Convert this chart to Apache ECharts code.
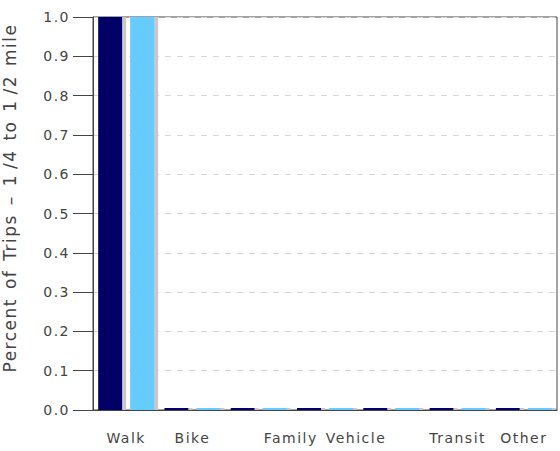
<!DOCTYPE html>
<html><head><meta charset="utf-8">
<script src="https://cdn.jsdelivr.net/npm/echarts@6/dist/echarts.min.js"></script>
<style>html,body{margin:0;padding:0;background:#fff}#c{width:560px;height:451px}
#c text{letter-spacing:1.5px;word-spacing:2px}
</style>
</head><body><div id="c"></div>
<script>
var categories = ['Walk', 'Bike', '', 'Family Vehicle', '', 'Transit', 'Other'];
var seriesA = [1.0, 0, 0, 0, 0, 0, 0];
var seriesB = [1.0, 0, 0, 0, 0, 0, 0];
var yTicks = [0, 0.1, 0.2, 0.3, 0.4, 0.5, 0.6, 0.7, 0.8, 0.9, 1.0];
var yTitle = 'Percent of Trips \u2013 1\u2009/4 to 1\u2009/2 mile';

var chart = echarts.init(document.getElementById('c'), null, {renderer: 'svg'});
var font = 'DejaVu Sans';
chart.setOption({
  animation: false,
  backgroundColor: '#fff',
  grid: {left: 93, top: 17, right: 3, bottom: 41, outerBoundsMode: 'none', containLabel: false,
         show: true, borderColor: '#444', borderWidth: 1, backgroundColor: 'transparent'},
  xAxis: {
    type: 'category', data: categories, boundaryGap: true,
    axisLine: {lineStyle: {color: '#444', width: 1}},
    axisTick: {length: 18, lineStyle: {color: '#444'}},
    axisLabel: {margin: 21, color: '#444', fontFamily: font, fontSize: 14, interval: 0}
  },
  yAxis: {
    type: 'value', min: yTicks[0], max: yTicks[yTicks.length - 1], interval: 0.1,
    name: yTitle, nameLocation: 'middle', nameGap: 75, nameRotate: 90,
    nameTextStyle: {color: '#444', fontFamily: font, fontSize: 17, padding: [0, 0, 0, 31]},
    axisLine: {show: true, lineStyle: {color: '#444', width: 1}},
    axisTick: {show: true, length: 20, lineStyle: {color: '#444'}},
    axisLabel: {margin: 23, color: '#444', fontFamily: font, fontSize: 14, formatter: function (v) { return v.toFixed(1); }},
    splitLine: {show: true, lineStyle: {color: '#d0d8e0', type: [6, 6]}}
  },
  series: [
    {type: 'bar', data: seriesA, barWidth: 24, barGap: '33%', barMinHeight: 2,
     itemStyle: {color: '#000066', shadowColor: '#c8c8c8', shadowOffsetX: 4, shadowOffsetY: 0, shadowBlur: 0}},
    {type: 'bar', data: seriesB, barWidth: 24, barMinHeight: 2,
     itemStyle: {color: '#66ccff', shadowColor: '#c8c8c8', shadowOffsetX: 4, shadowOffsetY: 0, shadowBlur: 0}}
  ]
});
chart.on('finished', function () {
  var ts = document.querySelectorAll('#c text');
  ts.forEach(function (t) { if (t.textContent.indexOf('Percent') === 0) { t.style.letterSpacing = '2.6px'; t.style.wordSpacing = '3px'; } });
});
</script></body></html>
